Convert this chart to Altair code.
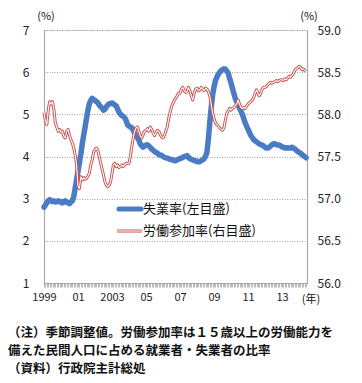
import altair as alt
import pandas as pd

# Unemployment rate (%, left axis), monthly Jan 1999 - Jun 2014
unemp_1999 = [2.80, 2.85, 2.90, 2.95, 2.98, 2.95, 2.93, 2.95, 2.92, 2.93, 2.95, 2.92]
unemp_2000 = [2.93, 2.90, 2.92, 2.95, 2.92, 2.90, 2.88, 2.92, 2.95, 3.05, 3.25, 3.45]
unemp_2001 = [3.65, 3.85, 4.05, 4.30, 4.50, 4.70, 4.90, 5.10, 5.25, 5.33, 5.38, 5.35]
unemp_2002 = [5.33, 5.30, 5.28, 5.22, 5.18, 5.15, 5.10, 5.12, 5.18, 5.22, 5.25, 5.25]
unemp_2003 = [5.27, 5.25, 5.22, 5.20, 5.12, 5.05, 5.00, 4.97, 4.95, 4.92, 4.85, 4.75]
unemp_2004 = [4.72, 4.70, 4.68, 4.62, 4.55, 4.50, 4.45, 4.38, 4.30, 4.25, 4.22, 4.25]
unemp_2005 = [4.27, 4.28, 4.25, 4.22, 4.18, 4.15, 4.12, 4.10, 4.08, 4.05, 4.03, 4.03]
unemp_2006 = [4.00, 3.98, 3.97, 3.96, 3.95, 3.93, 3.92, 3.92, 3.90, 3.90, 3.92, 3.94]
unemp_2007 = [3.95, 3.96, 3.98, 4.00, 4.00, 4.02, 3.98, 3.95, 3.93, 3.92, 3.90, 3.90]
unemp_2008 = [3.88, 3.87, 3.88, 3.90, 3.92, 3.95, 4.00, 4.10, 4.40, 4.80, 5.15, 5.45]
unemp_2009 = [5.65, 5.80, 5.88, 5.95, 6.00, 6.03, 6.06, 6.08, 6.07, 6.03, 5.98, 5.85]
unemp_2010 = [5.75, 5.62, 5.50, 5.38, 5.30, 5.22, 5.15, 5.08, 5.00, 4.90, 4.80, 4.72]
unemp_2011 = [4.65, 4.57, 4.50, 4.45, 4.40, 4.37, 4.35, 4.32, 4.30, 4.28, 4.27, 4.25]
unemp_2012 = [4.22, 4.20, 4.20, 4.22, 4.25, 4.28, 4.30, 4.30, 4.28, 4.27, 4.27, 4.25]
unemp_2013 = [4.23, 4.22, 4.20, 4.20, 4.21, 4.20, 4.20, 4.22, 4.20, 4.18, 4.15, 4.12]
unemp_2014 = [4.10, 4.08, 4.05, 4.02, 4.00, 3.97]

# Labour force participation rate (%, right axis)
part_1999 = [58.02, 57.92, 57.88, 58.05, 58.15, 58.12, 58.15, 58.05, 57.90, 57.85, 57.80, 57.82]
part_2000 = [57.79, 57.80, 57.74, 57.72, 57.80, 57.82, 57.75, 57.70, 57.66, 57.60, 57.52, 57.40]
part_2001 = [57.15, 57.12, 57.26, 57.22, 57.25, 57.23, 57.24, 57.27, 57.30, 57.40, 57.46, 57.55]
part_2002 = [57.58, 57.60, 57.57, 57.50, 57.42, 57.35, 57.28, 57.20, 57.16, 57.14, 57.16, 57.20]
part_2003 = [57.30, 57.40, 57.42, 57.38, 57.40, 57.37, 57.38, 57.40, 57.38, 57.40, 57.42, 57.42]
part_2004 = [57.42, 57.50, 57.62, 57.72, 57.80, 57.84, 57.85, 57.80, 57.74, 57.72, 57.76, 57.80]
part_2005 = [57.81, 57.83, 57.80, 57.85, 57.82, 57.78, 57.75, 57.78, 57.81, 57.80, 57.76, 57.73]
part_2006 = [57.72, 57.75, 57.80, 57.85, 57.95, 58.02, 58.09, 58.13, 58.17, 58.19, 58.22, 58.25]
part_2007 = [58.25, 58.30, 58.32, 58.28, 58.26, 58.27, 58.32, 58.28, 58.22, 58.17, 58.25, 58.30]
part_2008 = [58.31, 58.28, 58.29, 58.32, 58.30, 58.28, 58.31, 58.30, 58.27, 58.22, 58.12, 58.02]
part_2009 = [57.95, 57.90, 57.88, 57.86, 57.84, 57.82, 57.81, 57.84, 57.93, 58.01, 58.04, 58.07]
part_2010 = [58.05, 58.07, 58.08, 58.10, 58.12, 58.17, 58.12, 58.08, 58.07, 58.08, 58.07, 58.10]
part_2011 = [58.12, 58.14, 58.15, 58.17, 58.20, 58.25, 58.29, 58.25, 58.22, 58.25, 58.30, 58.32]
part_2012 = [58.32, 58.33, 58.35, 58.37, 58.38, 58.37, 58.38, 58.39, 58.40, 58.39, 58.40, 58.41]
part_2013 = [58.41, 58.40, 58.42, 58.41, 58.43, 58.45, 58.44, 58.46, 58.48, 58.52, 58.54, 58.55]
part_2014 = [58.57, 58.56, 58.53, 58.54, 58.52, 58.51]

left_ticks = [1, 2, 3, 4, 5, 6, 7]
right_ticks = [56.0, 56.5, 57.0, 57.5, 58.0, 58.5, 59.0]
legend_labels = ["失業率(左目盛)", "労働参加率(右目盛)"]
notes = [
    "（注）季節調整値。労働参加率は１５歳以上の労働能力を",
    "備えた民間人口に占める就業者・失業者の比率",
    "（資料）行政院主計総処",
]

unemp = (unemp_1999 + unemp_2000 + unemp_2001 + unemp_2002 + unemp_2003 + unemp_2004
         + unemp_2005 + unemp_2006 + unemp_2007 + unemp_2008 + unemp_2009 + unemp_2010
         + unemp_2011 + unemp_2012 + unemp_2013 + unemp_2014)
part = (part_1999 + part_2000 + part_2001 + part_2002 + part_2003 + part_2004
        + part_2005 + part_2006 + part_2007 + part_2008 + part_2009 + part_2010
        + part_2011 + part_2012 + part_2013 + part_2014)

n = len(unemp)
t = [1999 + i / 12 for i in range(n)]
df = pd.DataFrame({"t": t, "unemp": unemp, "part": part})

FONT = "Noto Sans CJK JP"
BLUE = "#4a7cc6"
RED = "#c9504d"
GRAY = "#a8a8a8"

label_expr = (
    "(datum.value == floor(datum.value) && datum.value % 2 == 1) ? "
    "((datum.value == 1999 || datum.value == 2003) ? '' + datum.value : "
    "slice('' + datum.value, 2)) : ''"
)

x_enc = alt.X(
    "t:Q",
    scale=alt.Scale(domain=[1999, 2014.47], nice=False, zero=False),
    axis=alt.Axis(
        values=t, labelExpr=label_expr, labelOverlap=False, labelFlush=False,
        grid=False, title=None, tickColor=GRAY, tickSize=4, tickWidth=0.8,
        domainColor=GRAY, domainWidth=1.2, labelPadding=4, labelFontSize=11,
        labelFont=FONT, labelColor="#222",
    ),
)

blue = alt.Chart(df).mark_line(
    color=BLUE, strokeWidth=5.5, strokeJoin="round", strokeCap="round"
).encode(
    x=x_enc,
    y=alt.Y(
        "unemp:Q",
        scale=alt.Scale(domain=[1, 7], nice=False, zero=False),
        axis=alt.Axis(
            values=left_ticks, title=None, ticks=False, labelPadding=15,
            grid=True, gridDash=[1, 1.5], gridColor="#8c8c8c", gridWidth=0.8,
            domainColor=GRAY, domainWidth=1.2, labelFontSize=12, labelFont=FONT,
            labelColor="#222",
        ),
    ),
)

red_base = alt.Chart(df).encode(
    x=x_enc,
    y=alt.Y(
        "part:Q",
        scale=alt.Scale(domain=[56, 59], nice=False, zero=False),
        axis=alt.Axis(
            values=right_ticks, format=".1f", orient="right", title=None,
            ticks=False, grid=False, labelPadding=10, domainColor=GRAY,
            domainWidth=1.2, labelFontSize=12, labelFont=FONT, labelColor="#222",
        ),
    ),
)
red = alt.layer(
    red_base.mark_line(color=RED, strokeWidth=3, strokeJoin="round"),
    red_base.mark_line(color="white", strokeWidth=1.1, strokeJoin="round"),
)

lines = alt.layer(blue, red).resolve_scale(y="independent")

anno = pd.DataFrame({"k": [0]})

def txt(s, x, y, size=11, weight="normal", align="center"):
    return alt.Chart(anno).mark_text(
        text=s, font=FONT, fontSize=size, fontWeight=weight, align=align,
        baseline="middle", color="#111",
    ).encode(x=alt.value(x), y=alt.value(y))

leg_blue = alt.Chart(anno).mark_rule(color=BLUE, strokeWidth=5, strokeCap="round").encode(
    x=alt.value(75), x2=alt.value(97), y=alt.value(179))
leg_red1 = alt.Chart(anno).mark_rule(color=RED, strokeWidth=3).encode(
    x=alt.value(73), x2=alt.value(98), y=alt.value(201))
leg_red2 = alt.Chart(anno).mark_rule(color="white", strokeWidth=1.1).encode(
    x=alt.value(73), x2=alt.value(98), y=alt.value(201))

layers = [
    lines,
    leg_blue, leg_red1, leg_red2,
    txt(legend_labels[0], 99, 179, size=13, align="left"),
    txt(legend_labels[1], 99, 201, size=13, align="left"),
    txt("(%)", 2, -13, size=11),
    txt("(%)", 265, -13, size=11),
    txt("(年)", 267, 270, size=11),
    txt(notes[0], -36, 303, size=12.5, weight="bold", align="left"),
    txt(notes[1], -36, 321, size=12.5, weight="bold", align="left"),
    txt(notes[2], -36, 339, size=12.5, weight="bold", align="left"),
]

chart = alt.layer(*layers).properties(
    width=263, height=253,
    autosize=alt.AutoSizeParams(type="none"),
    padding={"left": 36, "top": 22, "right": 47, "bottom": 100},
).configure_view(stroke=None).configure(background="white")

chart.save("out.html", embed_options={"renderer": "svg", "actions": False})
